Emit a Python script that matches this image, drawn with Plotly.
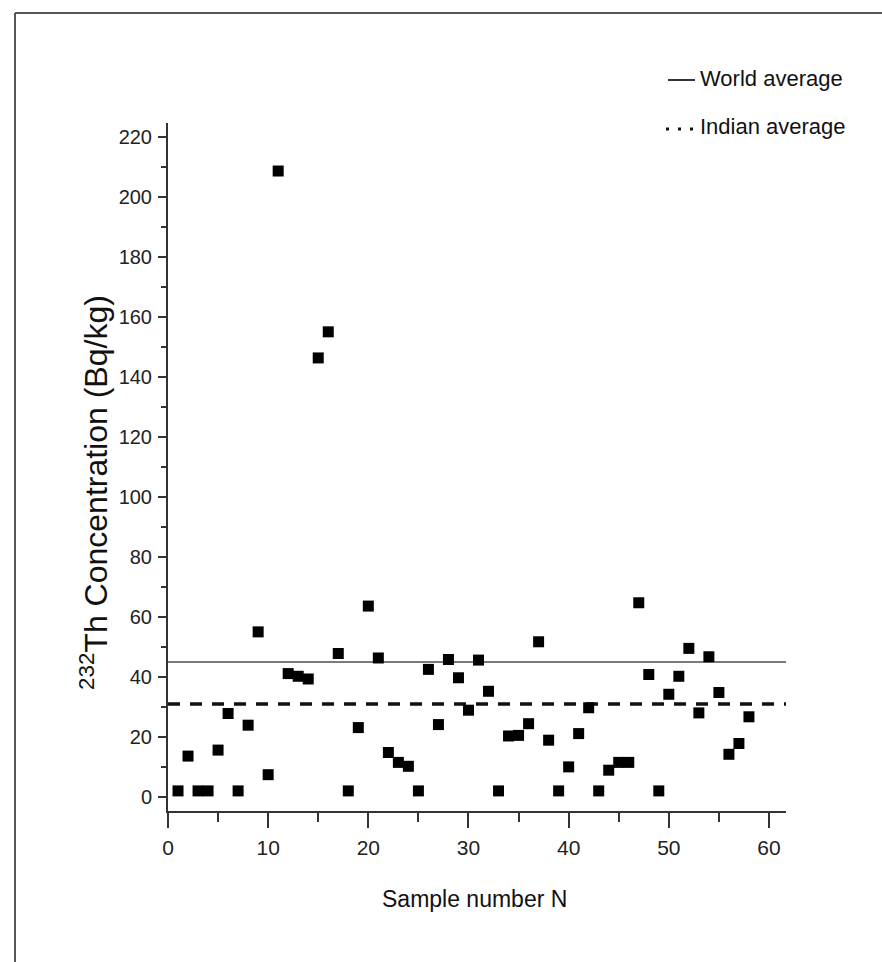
import plotly.graph_objects as go

# Sample numbers and measured 232Th activity concentrations (Bq/kg)
sample_no = list(range(1, 59))
th232 = [
    2.0, 13.6, 2.0, 2.0, 15.6, 27.8, 2.0, 23.9, 55.0, 7.4,
    208.6, 41.1, 40.2, 39.3, 146.3, 155.0, 47.8, 2.0, 23.1, 63.6,
    46.3, 14.8, 11.5, 10.2, 2.0, 42.5, 24.1, 45.8, 39.7, 28.9,
    45.6, 35.2, 2.0, 20.3, 20.5, 24.4, 51.7, 18.9, 2.0, 10.0,
    21.1, 29.7, 2.0, 8.9, 11.5, 11.5, 64.7, 40.8, 2.0, 34.2,
    40.2, 49.5, 28.0, 46.7, 34.8, 14.2, 17.8, 26.7,
]

# Reference averages (Bq/kg)
world_avg = 45
indian_avg = 31

x_range = [0, 61.7]
y_range = [-4.7, 224.6]
y_ticks = list(range(0, 221, 20))
x_ticks = list(range(0, 61, 10))

W, H = 882, 962
L, R, T, B = 168, 96, 123, 151

FONT = "Liberation Sans, Arial, sans-serif"


def px_x(p):
    return (p - L) / (W - L - R)


def px_y(p):
    return (H - B - p) / (H - T - B)


fig = go.Figure()

fig.add_trace(go.Scatter(
    x=x_range, y=[world_avg, world_avg], mode="lines",
    line=dict(color="#7a7a7a", width=2), showlegend=False, hoverinfo="skip",
))
fig.add_trace(go.Scatter(
    x=x_range, y=[indian_avg, indian_avg], mode="lines",
    line=dict(color="#111111", width=3.5, dash="12px,10px"),
    showlegend=False, hoverinfo="skip",
))
fig.add_trace(go.Scatter(
    x=sample_no, y=th232, mode="markers",
    marker=dict(symbol="square", size=11, color="#000000", line=dict(width=0)),
    showlegend=False,
))

axis_common = dict(
    showgrid=False, zeroline=False, showline=True, linecolor="#333333",
    linewidth=2, ticks="outside", tickcolor="#333333", tickwidth=2,
)

fig.update_xaxes(
    range=x_range, tickvals=x_ticks, ticklen=15, ticklabelstandoff=2,
    tickfont=dict(family=FONT, size=21, color="#222222"),
    minor=dict(dtick=5, tick0=0, ticklen=9, ticks="outside",
               tickcolor="#333333", tickwidth=2),
    **axis_common,
)
fig.update_yaxes(
    range=y_range, tickvals=y_ticks, ticklen=8, ticklabelstandoff=2,
    tickfont=dict(family=FONT, size=20, color="#222222"),
    minor=dict(dtick=10, tick0=0, ticklen=5, ticks="outside",
               tickcolor="#333333", tickwidth=2),
    **axis_common,
)

annotations = [
    # axis titles
    dict(text="Sample number N", x=px_x(474), y=px_y(899), xref="paper",
         yref="paper", showarrow=False, xanchor="center", yanchor="middle",
         font=dict(family=FONT, size=23, color="#111111")),
    dict(text="<sup>232</sup>Th Concentration (Bq/kg)", x=px_x(94),
         y=px_y(493), xref="paper", yref="paper", showarrow=False,
         textangle=-90, xanchor="center", yanchor="middle",
         font=dict(family=FONT, size=32, color="#111111")),
    # legend labels
    dict(text="World average", x=px_x(698), y=px_y(78), xref="paper",
         yref="paper", showarrow=False, xanchor="left", yanchor="middle",
         font=dict(family=FONT, size=22, color="#111111")),
    dict(text="Indian average", x=px_x(698), y=px_y(126), xref="paper",
         yref="paper", showarrow=False, xanchor="left", yanchor="middle",
         font=dict(family=FONT, size=22, color="#111111")),
]

shapes = [
    # legend samples
    dict(type="line", xref="paper", yref="paper", x0=px_x(668), x1=px_x(695),
         y0=px_y(80), y1=px_y(80), line=dict(color="#333333", width=2)),
    dict(type="line", xref="paper", yref="paper", x0=px_x(666), x1=px_x(696),
         y0=px_y(129), y1=px_y(129),
         line=dict(color="#111111", width=3, dash="3px,9px")),
    # outer frame
    dict(type="line", xref="paper", yref="paper", x0=px_x(15), x1=px_x(W + 5),
         y0=px_y(13), y1=px_y(13), line=dict(color="#555555", width=2)),
    dict(type="line", xref="paper", yref="paper", x0=px_x(15), x1=px_x(15),
         y0=px_y(13), y1=px_y(H + 5), line=dict(color="#555555", width=2)),
]

fig.update_layout(
    width=W, height=H, margin=dict(l=L, r=R, t=T, b=B),
    paper_bgcolor="white", plot_bgcolor="white",
    annotations=annotations, shapes=shapes, showlegend=False,
)

fig.write_html("out.html")
